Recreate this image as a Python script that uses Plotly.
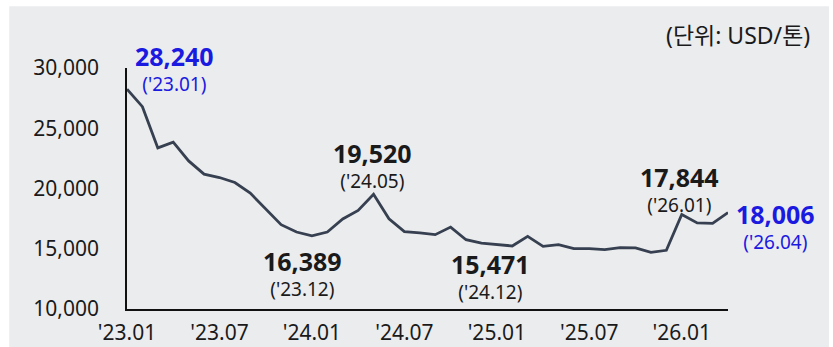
import plotly.graph_objects as go

# Monthly price, Jan 2023 – Apr 2026 (USD/ton)
months = [f"'{y:02d}.{m:02d}" for y in (23, 24, 25) for m in range(1, 13)] + \
         [f"'26.{m:02d}" for m in range(1, 5)]
prices = [
    28240, 26790, 23370, 23840, 22290, 21190, 20910, 20500, 19620, 18300, 17000, 16389,
    16080, 16390, 17470, 18180, 19520, 17490, 16420, 16310, 16170, 16800, 15750, 15471,
    15340, 15230, 16030, 15200, 15340, 15010, 15010, 14930, 15090, 15070, 14700, 14870,
    17844, 17140, 17100, 18006,
]
tick_months = ["'23.01", "'23.07", "'24.01", "'24.07", "'25.01", "'25.07", "'26.01"]
y_ticks = [10000, 15000, 20000, 25000, 30000]

# Highlighted points: (month, colour, label offset in px from the point)
highlights = [
    ("'23.01", "blue", (47, 21)),
    ("'23.12", "black", (6, -41)),
    ("'24.05", "black", (-1, 29)),
    ("'24.12", "black", (9, -33)),
    ("'26.01", "black", (-2, 25)),
    ("'26.04", "blue", (47, -13)),
]

BLUE = "#1a1ae0"
INK = "#1a1a1a"
LINE = "#364050"
BG = "#ebecee"
FONT = "Noto Sans, Noto Sans CJK KR, sans-serif"

idx = list(range(len(months)))
fig = go.Figure(go.Scatter(
    x=idx, y=prices, mode="lines",
    line=dict(color=LINE, width=2.8),
    hoverinfo="skip",
))

annotations = []
for m, col, (dx, dy) in highlights:
    i = months.index(m)
    c = BLUE if col == "blue" else INK
    annotations.append(dict(
        x=i, y=prices[i], xref="x", yref="y",
        text=f"<b><span style='font-size:25px'>{prices[i]:,}</span></b><br>({m})",
        showarrow=False, xshift=dx, yshift=dy,
        xanchor="center", yanchor="middle", align="center",
        font=dict(size=19, color=c, family=FONT),
    ))

annotations.append(dict(
    x=1.14, y=1.135, xref="paper", yref="paper", xanchor="right", yanchor="middle",
    text="(단위: USD/톤)", showarrow=False,
    font=dict(size=23, color=INK, family=FONT),
))

fig.update_layout(
    width=833, height=347,
    margin=dict(l=127, r=105, t=68, b=37.5),
    paper_bgcolor="white",
    plot_bgcolor="rgba(0,0,0,0)",
    showlegend=False,
    font=dict(family=FONT, color=INK),
    annotations=annotations,
    shapes=[dict(
        type="rect", xref="paper", yref="paper",
        x0=-0.196, x1=1.168, y0=-0.3, y1=1.256,
        fillcolor=BG, line_width=0, layer="below",
    )],
)
fig.update_xaxes(
    range=[0, len(months) - 1],
    tickmode="array",
    tickvals=[months.index(t) for t in tick_months],
    ticktext=tick_months,
    showgrid=False, zeroline=False, automargin=False,
    showline=True, linecolor="#111", linewidth=1.5,
    ticks="", ticklabelstandoff=4, tickfont=dict(size=21, color=INK),
)
fig.update_yaxes(
    range=[10000, 30000],
    tickmode="array", tickvals=y_ticks,
    ticktext=[f"{v:,}" for v in y_ticks],
    showgrid=False, zeroline=False, automargin=False,
    showline=True, linecolor="#111", linewidth=1.5,
    ticks="", ticklabelstandoff=22, tickfont=dict(size=21, color=INK),
)

fig.write_html("out.html")
